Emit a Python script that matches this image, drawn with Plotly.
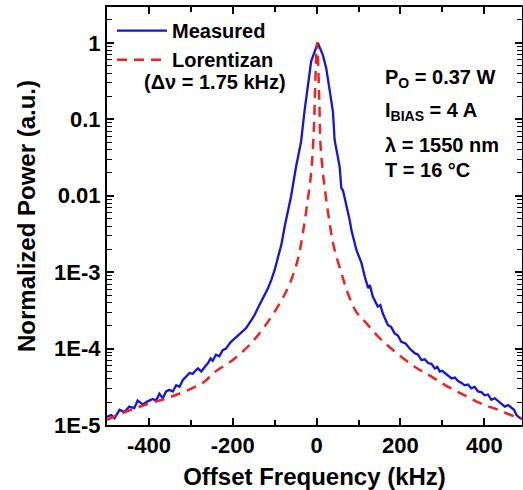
# -*- coding: utf-8 -*-


import plotly.graph_objs as go


# measured spectrum (kHz, normalized power)
MEASURED_FREQ = [
    -500, -498, -490, -482, -470, -458, -447, -435, -427, -415,
    -403, -391, -383, -375, -367, -359, -351, -343, -335, -327,
    -319, -311, -303, -295, -291, -283, -275, -267, -259, -253,
    -248, -240, -232, -224, -216, -206, -196, -188, -180, -168,
    -156, -148, -140, -128, -116, -108, -100, -92, -84, -76,
    -61, -49, -37, -29, -21, -13, 3, 15, 23, 31,
    39, 43, 55, 59, 63, 79, 83, 95, 107, 115,
    123, 127, 134, 146, 152, 158, 170, 178, 186, 194,
    202, 212, 222, 234, 242, 250, 258, 266, 274, 282,
    288, 294, 300, 306, 314, 322, 330, 338, 346, 353,
    361, 369, 377, 385, 393, 401, 409, 417, 425, 433,
    441, 449, 457, 465, 471, 477, 485, 490,
]
MEASURED_POWER = [
    1.26e-5, 1.29e-5, 1.35e-5, 1.23e-5, 1.58e-5, 1.48e-5, 1.74e-5, 1.66e-5, 2.09e-5, 1.86e-5,
    2.04e-5, 2.19e-5, 2.09e-5, 2.57e-5, 2.24e-5, 2.75e-5, 2.88e-5, 2.75e-5, 3.31e-5, 3.16e-5,
    3.89e-5, 4.27e-5, 4.79e-5, 4.68e-5, 5.01e-5, 5.50e-5, 5.01e-5, 5.75e-5, 6.46e-5, 7.41e-5,
    6.92e-5, 8.32e-5, 7.94e-5, 9.55e-5, 1.00e-4, 1.20e-4, 1.35e-4, 1.51e-4, 1.66e-4, 1.86e-4,
    2.34e-4, 2.75e-4, 3.39e-4, 4.57e-4, 6.17e-4, 7.94e-4, 1.07e-3, 1.58e-3, 2.29e-3, 3.98e-3,
    9.77e-3, 0.024, 0.0513, 0.126, 0.282, 0.575, 1.0, 0.692, 0.468, 0.229,
    0.126, 0.0537, 0.024, 0.0126, 0.0117, 4.79e-3, 3.55e-3, 1.95e-3, 1.32e-3, 8.71e-4,
    6.17e-4, 6.76e-4, 4.79e-4, 3.55e-4, 3.72e-4, 2.88e-4, 2.04e-4, 1.91e-4, 1.58e-4, 1.48e-4,
    1.23e-4, 1.17e-4, 1.00e-4, 8.71e-5, 8.32e-5, 7.08e-5, 7.24e-5, 6.46e-5, 6.31e-5, 5.50e-5,
    5.75e-5, 5.01e-5, 5.13e-5, 4.79e-5, 4.47e-5, 4.07e-5, 4.17e-5, 3.72e-5, 3.55e-5, 3.31e-5,
    3.39e-5, 3.02e-5, 3.16e-5, 2.75e-5, 2.69e-5, 2.45e-5, 2.51e-5, 2.14e-5, 2.24e-5, 2.04e-5,
    1.86e-5, 1.74e-5, 1.82e-5, 1.66e-5, 1.58e-5, 1.35e-5, 1.23e-5, 1.20e-5,
]

# lorentzian fit
LORENTZ_FREQ = [
    -500, -466, -411, -347, -299, -267, -248, -200, -160, -124,
    -88, -64, -45, -33, -21, -13, -8, -5, -3, 1,
    5, 7, 9, 15, 23, 35, 43, 59, 75, 95,
    119, 146, 178, 234, 274, 314, 353, 393, 433, 473, 490,
]
LORENTZ_POWER = [
    1.17e-5, 1.41e-5, 1.82e-5, 2.34e-5, 3.0e-5, 3.7e-5, 4.7e-5, 7.1e-5, 1.12e-4, 1.95e-4,
    3.9e-4, 7.1e-4, 1.45e-3, 3.2e-3, 8.9e-3, 0.02, 0.05, 0.13, 0.32, 1.0,
    0.32, 0.13, 0.05, 0.02, 8.9e-3, 3.2e-3, 1.95e-3, 9.8e-4, 5.2e-4, 3.0e-4,
    2.14e-4, 1.45e-4, 1.0e-4, 5.8e-5, 4.3e-5, 3.16e-5, 2.45e-5, 1.9e-5, 1.58e-5, 1.29e-5, 1.23e-5,
]

X_TICKS = [-400, -200, 0, 200, 400]
Y_TICKS = [1e-5, 1e-4, 1e-3, 1e-2, 1e-1, 1]
Y_TICK_LABELS = ["1E-5", "1E-4", "1E-3", "0.01", "0.1", "1"]

CONDITIONS = [
    "P<sub>O</sub> = 0.37 W",
    "I<sub>BIAS</sub> = 4 A",
    "\u03bb = 1550 nm",
    "T = 16 \u00b0C",
]

FONT = "Liberation Sans, Arial, sans-serif"


def make_figure():
    fig = go.Figure()

    fig.add_trace(
        go.Scatter(
            x=MEASURED_FREQ,
            y=MEASURED_POWER,
            mode="lines",
            name="<b>Measured</b>",
            line=dict(color="#1414dc", width=2.3),
        )
    )
    fig.add_trace(
        go.Scatter(
            x=LORENTZ_FREQ,
            y=LORENTZ_POWER,
            mode="lines",
            name="<b>Lorentizan</b>",
            line=dict(color="#ee2222", width=2.5, dash="10px,7px", shape="spline"),
        )
    )

    axis_common = dict(
        showline=True,
        linecolor="black",
        linewidth=2,
        mirror="ticks",
        ticks="inside",
        ticklen=7,
        tickwidth=1.5,
        tickcolor="black",
        showgrid=False,
        zeroline=False,
        automargin=False,
        tickfont=dict(family=FONT, size=22, color="black"),
    )

    fig.update_xaxes(
        **axis_common,
        range=[-500, 490],
        tickvals=X_TICKS,
        ticktext=["<b>%d</b>" % v for v in X_TICKS],
        minor=dict(ticks="inside", ticklen=5, tickwidth=1.5, tickcolor="black", dtick=100, tick0=0),
        title=dict(
            text="<b>Offset Frequency (kHz)</b>",
            font=dict(family=FONT, size=24, color="black"),
            standoff=12,
        ),
    )
    fig.update_yaxes(
        **axis_common,
        type="log",
        range=[-5, 0.47],
        tickvals=Y_TICKS,
        ticktext=["<b>%s</b>" % t for t in Y_TICK_LABELS],
        minor=dict(ticks="inside", ticklen=5, tickwidth=1, tickcolor="black", dtick="D1"),
        title=dict(
            text="<b>Normalized Power (a.u.)</b>",
            font=dict(family=FONT, size=24, color="black"),
            standoff=12,
        ),
    )

    fig.add_annotation(
        x=0.084, y=0.821, xref="paper", yref="paper",
        xanchor="left", yanchor="middle", showarrow=False,
        text="<b>(\u0394\u03bd = 1.75 kHz)</b>",
        font=dict(family=FONT, size=20, color="black"),
    )

    ys = [0.830, 0.749, 0.670, 0.610]
    for text, y in zip(CONDITIONS, ys):
        fig.add_annotation(
            x=0.665, y=y, xref="paper", yref="paper",
            xanchor="left", yanchor="middle", showarrow=False,
            text="<b>%s</b>" % text,
            font=dict(family=FONT, size=20, color="black"),
        )

    fig.update_layout(
        width=523,
        height=490,
        margin=dict(l=107, r=1, t=7, b=65),
        paper_bgcolor="white",
        plot_bgcolor="white",
        showlegend=True,
        legend=dict(
            x=0.012, y=0.99, xanchor="left", yanchor="top",
            bgcolor="rgba(0,0,0,0)",
            font=dict(family=FONT, size=20, color="black"),
            itemwidth=50,
            tracegroupgap=0,
        ),
    )
    return fig


def main():
    fig = make_figure()
    # drop the browser's default 8px page margin so the figure sits at 0,0
    fig.write_html(
        "out.html",
        config={"displayModeBar": False},
        post_script="document.body.style.margin = '0';",
    )


if __name__ == "__main__":
    main()
